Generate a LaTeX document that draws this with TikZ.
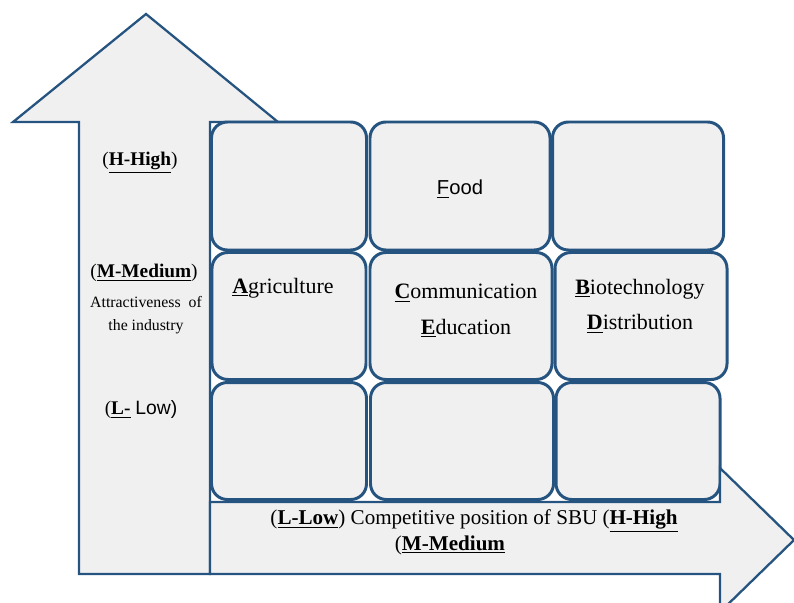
\documentclass[tikz,border=0pt]{standalone}
\usepackage{fontspec}
\setmainfont{Liberation Serif}
\setsansfont{Liberation Sans}
\usepackage{tikz}
\definecolor{edgeColor}{RGB}{38,84,128}
\definecolor{cellColor}{RGB}{240,240,240}

\begin{document}
\begin{tikzpicture}[x=0.02cm,y=-0.02cm]

            \tikzstyle{arrowShape} = [draw=edgeColor, fill=cellColor, line width=1.3pt, line join=miter];
            \tikzstyle{cellNode} = [draw=edgeColor, fill=cellColor, line width=1.7pt, rounded corners=9pt, inner sep=0pt];
            \tikzstyle{axisText} = [black, font=\fontsize{11}{13}\selectfont, align=center];
            \tikzstyle{cellText} = [black, font=\fontsize{12.5}{20}\selectfont, align=center];

            \newcommand*\ul[1]{\underline{\textbf{#1}}}

            \clip (0,0) rectangle (794,602);

            % vertical axis arrow
            \draw[arrowShape] (79,574) -- (79,122) -- (13,122) -- (146,14)
              -- (278,122) -- (210,122) -- (210,574) -- cycle;

            % 3x3 grid of cells
            \node[cellNode, minimum width=155*0.02cm, minimum height=128*0.02cm] (c11) at (289,186) {};
            \node[cellNode, minimum width=180*0.02cm, minimum height=128*0.02cm] (c12) at (460,186) {};
            \node[cellNode, minimum width=171*0.02cm, minimum height=128*0.02cm] (c13) at (638,186) {};
            \node[cellNode, minimum width=154*0.02cm, minimum height=127*0.02cm] (c21) at (289,316) {};
            \node[cellNode, minimum width=182*0.02cm, minimum height=127*0.02cm] (c22) at (461,316) {};
            \node[cellNode, minimum width=172*0.02cm, minimum height=127*0.02cm] (c23) at (641,316) {};
            \node[cellNode, minimum width=155*0.02cm, minimum height=117*0.02cm] (c31) at (289,441) {};
            \node[cellNode, minimum width=183*0.02cm, minimum height=117*0.02cm] (c32) at (462,441) {};
            \node[cellNode, minimum width=164*0.02cm, minimum height=117*0.02cm] (c33) at (638,441) {};

            % horizontal axis arrow
            \draw[arrowShape] (210,502) -- (720,502) -- (720,468) -- (794,540)
              -- (720,612) -- (720,574) -- (210,574) -- cycle;

            % labels on the vertical axis
            \node[axisText] (high) at (140,163) {(\ul{H-High})};
            \node[axisText] (medium) at (144,273) {(\ul{M-Medium})};
            \node[axisText, font=\fontsize{9}{13.5}\selectfont] (attract) at (146,315) {Attractiveness\ \ of\\the industry};
            \node[axisText] (low) at (141,410) {(\ul{L-} \textsf{Low)}};

            % cell labels
            \node[cellText, font=\sffamily\fontsize{11.5}{14}\selectfont] (food) at (460,189) {\underline{F}ood};
            \node[cellText] (agri) at (283,288) {\ul{A}griculture};
            \node[cellText] (comm) at (466,311) {\ul{C}ommunication\\\ul{E}ducation};
            \node[cellText] (bio) at (640,306) {\ul{B}iotechnology\\\ul{D}istribution};

            % label on the horizontal axis
            \node[axisText, font=\fontsize{12}{24}\selectfont] (sbu) at (474,521) {(\ul{L-Low}) Competitive position of SBU (\ul{H-High}};
            \node[axisText, font=\fontsize{12}{14}\selectfont] (sbuMed) at (450,545) {(\ul{M-Medium}};

\end{tikzpicture}
\end{document}
